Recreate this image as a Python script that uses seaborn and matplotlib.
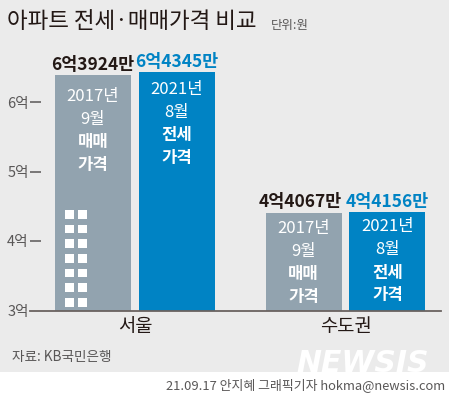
import matplotlib
matplotlib.use("Agg")
import matplotlib.pyplot as plt
from matplotlib.patches import Rectangle
import pandas as pd
import seaborn as sns

regions = ["서울", "수도권"]
periods = ["2017년 9월 매매가격", "2021년 8월 전세가격"]
sale_2017 = [6.3924, 4.4067]
jeonse_2021 = [6.4345, 4.4156]
value_labels_sale = ["6억3924만", "4억4067만"]
value_labels_jeonse = ["6억4345만", "4억4156만"]
bar_lines_sale = ["2017년", "9월", "매매", "가격"]
bar_lines_jeonse = ["2021년", "8월", "전세", "가격"]
y_ticks = [3, 4, 5, 6]
y_tick_labels = ["3억", "4억", "5억", "6억"]

sns.set_theme(style="white")
plt.rcParams["font.family"] = ["Noto Sans CJK KR", "DejaVu Sans"]
W, H = 449, 393
BG, GRAY, BLUE = "#EBEBEB", "#92A3AF", "#0083C4"
DARK, MID = "#231815", "#595757"
PT = 0.72  # points per pixel at dpi 100

fig = plt.figure(figsize=(W / 100, H / 100), dpi=100, facecolor="white")


def px(x, y):
    return x / W, 1 - y / H


fig.add_artist(Rectangle((0, px(0, 372)[1]), 1, 1 - px(0, 372)[1], transform=fig.transFigure,
                         facecolor=BG, edgecolor="none", zorder=-5))

base, top = 310.5, 40
left, right = 30, 441
ax = fig.add_axes([left / W, 1 - base / H, (right - left) / W, (base - top) / H])
ax.patch.set_alpha(0)

df = pd.DataFrame({
    "region": regions * 2,
    "period": [periods[0]] * 2 + [periods[1]] * 2,
    "value": sale_2017 + jeonse_2021,
})
sns.barplot(data=df, x="region", y="value", hue="period", hue_order=periods,
            palette=[GRAY, BLUE], width=0.798, gap=0.095, legend=False, ax=ax,
            saturation=1, edgecolor="none")

unit_y = 69.4
unit_x = 210.5
ax.set_xlim((left - 135) / unit_x, (right - 135) / unit_x)
ax.set_ylim(3, 3 + (base - top) / unit_y)
ax.set_xlabel("")
ax.set_ylabel("")
for s in ["top", "right", "left"]:
    ax.spines[s].set_visible(False)
ax.spines["bottom"].set_color("#6A6260")
ax.spines["bottom"].set_linewidth(1.3)

ax.tick_params(axis="y", left=False, labelleft=False)
ax.set_xticks([0, 1], regions, fontsize=13.5, color=DARK)
ax.tick_params(axis="x", length=0, pad=4)
for tick, lab in zip(y_ticks, y_tick_labels):
    ax.annotate(lab, (0, tick), xycoords=ax.get_yaxis_transform(), xytext=(-1, -1),
                textcoords="offset points", ha="right", va="center", fontsize=10.5,
                color=MID, annotation_clip=False)
    if tick > 3:
        ax.plot([0, 11 / (right - left)], [tick, tick], transform=ax.get_yaxis_transform(),
                color=MID, lw=1.1, solid_capstyle="butt", clip_on=False)

# text layout per bar, pixels: offset of first line below the bar top, horizontal shift of value label
layout = {
    0: {"first": [20, 14], "shift": [0, -3], "lift": [2, 3]},
    1: {"first": [16, 13], "shift": [0, 0], "lift": [2.5, 3]},
}
series = [
    (sale_2017, value_labels_sale, bar_lines_sale, DARK),
    (jeonse_2021, value_labels_jeonse, bar_lines_jeonse, BLUE),
]
for s_i, (values, labels, lines, col) in enumerate(series):
    bars = ax.containers[s_i]
    lay = layout[s_i]
    for b_i, (r, v, lab) in enumerate(zip(bars, values, labels)):
        cx = r.get_x() + r.get_width() / 2
        ax.annotate(lab, (cx, v), xytext=(lay["shift"][b_i] * PT, lay["lift"][b_i] * PT - 1),
                    textcoords="offset points", ha="center", va="bottom", fontsize=12.5,
                    fontweight="bold", color=col)
        for i, ln in enumerate(lines):
            d = lay["first"][b_i] + i * 22.8 + 1.7
            ax.annotate(ln, (cx, v), xytext=(0, -d * PT), textcoords="offset points",
                        ha="center", va="center", fontsize=12, color="white",
                        fontweight="bold" if i >= 2 else "normal")

# building windows decoration
for cx in (65, 78.3):
    for i in range(7):
        fig.add_artist(Rectangle(px(cx, 218.7 + i * 14.67), 8.7 / W, 8.7 / H,
                                 transform=fig.transFigure, facecolor="white", edgecolor="none"))


def t(x, y, s, **kw):
    fig.text(*px(x, y), s, **kw)


t(7, 21, "아파트 전세·매매가격 비교", fontsize=16.2, color=DARK, va="center", ha="left", fontweight="medium")
t(271, 25, "단위:원", fontsize=9, color=MID, va="center", ha="left")
t(12, 357, "자료: KB국민은행", fontsize=9.8, color=MID, va="center", ha="left")
t(445, 385, "21.09.17 안지혜 그래픽기자 hokma@newsis.com", fontsize=9.3, color=MID, va="center", ha="right")
t(363, 363, "NEWSIS", fontsize=21.5, color="white", va="center", ha="center", fontweight="bold",
  fontstyle="italic", family="DejaVu Sans")

fig.savefig("out.png", dpi=100, facecolor="white")
